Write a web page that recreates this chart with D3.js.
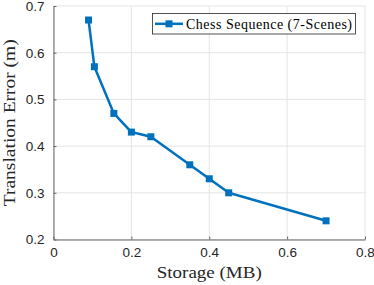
<!DOCTYPE html>
<html><head><meta charset="utf-8">
<script src="https://cdn.jsdelivr.net/npm/d3@7"></script>
<style>body{margin:0;background:#fff}
.serif{font-family:'Liberation Serif','Times New Roman','DejaVu Serif',serif}
.sans{font-family:'Liberation Sans',Arial,Helvetica,sans-serif}
</style>
</head><body>
<script>
const storage = [0.09, 0.105, 0.155, 0.2, 0.25, 0.35, 0.4, 0.45, 0.7];
const transErr = [0.67, 0.57, 0.47, 0.43, 0.42, 0.36, 0.33, 0.30, 0.24];
const xTicks = [0, 0.2, 0.4, 0.6, 0.8];
const yTicks = [0.2, 0.3, 0.4, 0.5, 0.6, 0.7];
const seriesName = "Chess Sequence (7-Scenes)";

const W = 374, H = 285;
const m = {l: 53.5, r: 9, t: 6, b: 45.5};
const svg = d3.select("body").append("svg").attr("width", W).attr("height", H);
const x = d3.scaleLinear().domain([0, 0.8]).range([m.l, W - m.r]);
const y = d3.scaleLinear().domain([0.2, 0.7]).range([H - m.b, m.t]);

// grid
const g = svg.append("g");
g.selectAll(".vx").data(xTicks).enter().append("line")
  .attr("x1", d => x(d)).attr("x2", d => x(d)).attr("y1", y(0.2)).attr("y2", y(0.7))
  .attr("stroke", "#e5e5e5").attr("stroke-width", 1);
g.selectAll(".hy").data(yTicks).enter().append("line")
  .attr("y1", d => y(d)).attr("y2", d => y(d)).attr("x1", x(0)).attr("x2", x(0.8))
  .attr("stroke", "#e5e5e5").attr("stroke-width", 1);

// axes
const fmt = d => d === 0 ? "0" : d3.format(".1f")(d);
const xa = svg.append("g").attr("transform", `translate(0,${y(0.2)})`)
  .call(d3.axisBottom(x).tickValues(xTicks).tickFormat(fmt).tickSizeInner(-3).tickSizeOuter(0).tickPadding(8));
const ya = svg.append("g").attr("transform", `translate(${x(0)},0)`)
  .call(d3.axisLeft(y).tickValues(yTicks).tickFormat(fmt).tickSizeInner(-3).tickSizeOuter(0).tickPadding(9));
[xa, ya].forEach(a => {
  a.attr("font-family", null).attr("class", "sans");
  a.select(".domain").attr("stroke", "#666").attr("stroke-width", 1);
  a.selectAll(".tick line").attr("stroke", "#666");
  a.selectAll("text").attr("font-size", 13.5).attr("fill", "#262626");
});

// labels
svg.append("text").attr("class", "serif").attr("x", (x(0) + x(0.8)) / 2).attr("y", 278)
  .attr("text-anchor", "middle").attr("textLength", 105).attr("lengthAdjust", "spacingAndGlyphs")
  .attr("font-size", 17).attr("fill", "#262626").text("Storage (MB)");
svg.append("text").attr("class", "serif").attr("transform", `translate(15,${(y(0.2) + y(0.7)) / 2}) rotate(-90)`)
  .attr("text-anchor", "middle").attr("textLength", 167).attr("lengthAdjust", "spacingAndGlyphs")
  .attr("font-size", 17).attr("fill", "#262626").text("Translation Error (m)");

// series
const color = "#0072BD";
const pts = storage.map((s, i) => [s, transErr[i]]);
svg.append("path").datum(pts)
  .attr("d", d3.line().x(d => x(d[0])).y(d => y(d[1])))
  .attr("fill", "none").attr("stroke", color).attr("stroke-width", 2.5).attr("stroke-linejoin", "round");
svg.selectAll(".mk").data(pts).enter().append("rect")
  .attr("x", d => x(d[0]) - 3.5).attr("y", d => y(d[1]) - 3.5)
  .attr("width", 7).attr("height", 7).attr("fill", color);

// legend
const lg = svg.append("g");
lg.append("rect").attr("x", 152.5).attr("y", 13.5).attr("width", 203).attr("height", 20.5)
  .attr("fill", "#fff").attr("stroke", "#262626").attr("stroke-width", 0.8);
lg.append("line").attr("x1", 155).attr("x2", 183).attr("y1", 23.8).attr("y2", 23.8)
  .attr("stroke", color).attr("stroke-width", 2.5);
lg.append("rect").attr("x", 169 - 3.5).attr("y", 23.8 - 3.5).attr("width", 7).attr("height", 7).attr("fill", color);
lg.append("text").attr("class", "serif").attr("x", 186).attr("y", 28.5)
  .attr("font-size", 14).attr("fill", "#000").attr("textLength", 166).attr("lengthAdjust", "spacing").text(seriesName);
</script>
</body></html>
